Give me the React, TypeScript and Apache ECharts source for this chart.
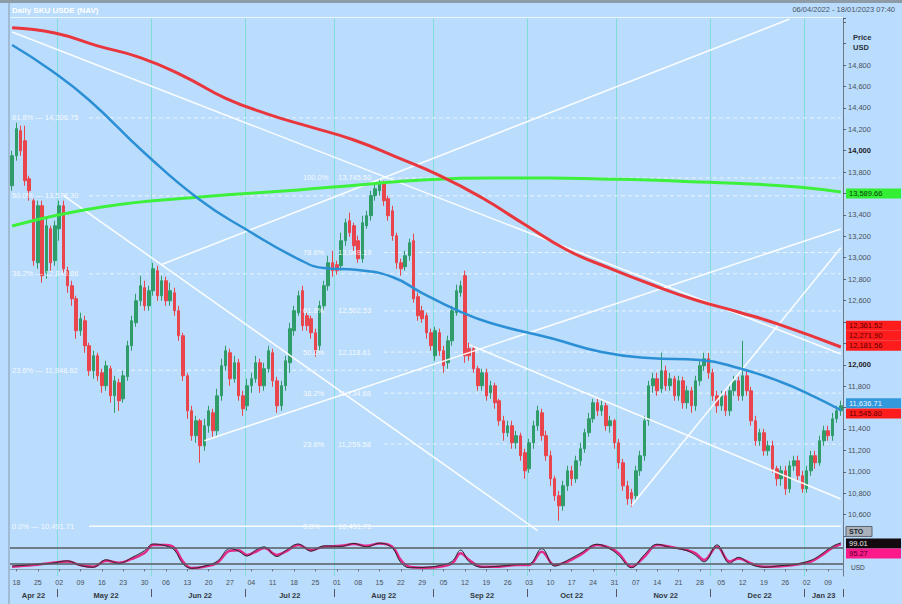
import React, { useEffect, useRef } from "react";
import * as echarts from "echarts";

const FONT = "Liberation Sans, Arial, sans-serif";
const BG = "#badcfd";

const MONTH_LABELS = ["Apr 22", "May 22", "Jun 22", "Jul 22", "Aug 22", "Sep 22", "Oct 22", "Nov 22", "Dec 22", "Jan 23"];
const MONTH_YM = [[2022, 4], [2022, 5], [2022, 6], [2022, 7], [2022, 8], [2022, 9], [2022, 10], [2022, 11], [2022, 12], [2023, 1]];
const TRADING_DAYS = [
  [15, 18, 19, 20, 21, 22, 25, 26, 27, 28, 29],
  [2, 3, 4, 5, 6, 9, 10, 11, 12, 13, 16, 17, 18, 19, 20, 23, 24, 25, 26, 27, 30, 31],
  [1, 2, 3, 6, 7, 8, 9, 10, 13, 14, 15, 16, 17, 20, 21, 22, 23, 24, 27, 28, 29, 30],
  [1, 4, 5, 6, 7, 8, 11, 12, 13, 14, 15, 18, 19, 20, 21, 22, 25, 26, 27, 28, 29],
  [1, 2, 3, 4, 5, 8, 9, 10, 11, 12, 15, 16, 17, 18, 19, 22, 23, 24, 25, 26, 29, 30, 31],
  [1, 2, 5, 6, 7, 8, 9, 12, 13, 14, 15, 16, 19, 20, 21, 22, 23, 26, 27, 28, 29, 30],
  [3, 4, 5, 6, 7, 10, 11, 12, 13, 14, 17, 18, 19, 20, 21, 24, 25, 26, 27, 28, 31],
  [1, 2, 3, 4, 7, 8, 9, 10, 11, 14, 15, 16, 17, 18, 21, 22, 23, 24, 25, 28, 29, 30],
  [1, 2, 5, 6, 7, 8, 9, 12, 13, 14, 15, 16, 19, 20, 21, 22, 23, 26, 27, 28, 29, 30],
  [2, 3, 4, 5, 6, 9, 10, 11, 12],
];

// [open, close, low, high]
const CANDLES = [
  [13673, 13953, 13626, 14000], [13953, 14206, 13907, 14262], [14187, 14000, 13953, 14234], [14093, 13720, 13673, 14234],
  [13738, 13626, 13533, 13766], [13533, 12972, 12925, 13552], [12953, 13486, 12897, 13533], [13486, 12832, 12766, 13533],
  [12860, 13299, 12804, 13365], [13271, 12953, 12879, 13299], [12972, 13299, 12925, 13346],
  // May
  [13271, 13486, 13159, 13533], [13486, 12897, 12860, 13533], [12879, 12738, 12673, 12916], [12738, 12617, 12551, 12785],
  [12617, 12318, 12243, 12645], [12318, 12430, 12271, 12486], [12411, 12178, 12112, 12458], [12178, 11944, 11897, 12206],
  [11944, 12084, 11869, 12131], [12084, 11897, 11850, 12112], [11925, 11804, 11738, 11963], [11804, 11991, 11757, 12037],
  [11963, 11710, 11645, 11991], [11710, 11850, 11551, 11897], [11832, 11664, 11570, 11869], [11682, 11897, 11645, 11944],
  [11888, 12178, 11850, 12224], [12178, 12411, 12131, 12458], [12392, 12598, 12355, 12664], [12598, 12738, 12551, 12832],
  [12720, 12551, 12505, 12785], [12551, 12692, 12505, 12738],
  // Jun
  [12692, 12897, 12645, 12953], [12879, 12645, 12598, 12925], [12645, 12785, 12598, 12832], [12785, 12598, 12551, 12823],
  [12598, 12692, 12551, 12766], [12673, 12505, 12458, 12720], [12505, 12271, 12224, 12551], [12271, 11897, 11850, 12299],
  [11897, 11570, 11495, 11925], [11570, 11337, 11290, 11617], [11337, 11477, 11271, 11523], [11477, 11243, 11084, 11495],
  [11243, 11430, 11196, 11495], [11430, 11570, 11365, 11617], [11551, 11383, 11327, 11589], [11383, 11710, 11337, 11776],
  [11710, 11991, 11664, 12056], [11991, 12131, 11944, 12178], [12112, 11869, 11804, 12150], [11869, 12019, 11832, 12084],
  [12019, 11710, 11664, 12056], [11710, 11589, 11523, 11757],
  // Jul
  [11617, 11804, 11570, 11869], [11804, 11869, 11738, 11925], [11869, 12019, 11832, 12084], [12019, 11804, 11738, 12056],
  [11804, 11963, 11757, 12019], [11963, 12131, 11925, 12178], [12112, 11850, 11794, 12150], [11850, 11617, 11551, 11888],
  [11617, 11804, 11570, 11850], [11804, 12037, 11757, 12084], [12019, 12337, 11925, 12392], [12318, 12505, 12271, 12551],
  [12486, 12645, 12458, 12692], [12692, 12365, 12318, 12738], [12458, 12365, 12318, 12486], [12430, 12299, 12243, 12458],
  [12299, 12131, 12075, 12337], [12178, 12551, 12131, 12598], [12551, 12738, 12505, 12785], [12738, 12953, 12692, 13019],
  [12953, 12879, 12823, 13065],
  // Aug
  [12935, 12879, 12841, 12972], [12925, 13159, 12879, 13234], [13159, 13327, 13112, 13365], [13346, 13234, 13196, 13421],
  [13299, 13112, 13065, 13327], [13159, 12991, 12953, 13206], [12991, 13327, 12953, 13393], [13299, 13393, 13271, 13439],
  [13393, 13580, 13346, 13626], [13580, 13645, 13533, 13692], [13626, 13701, 13580, 13738], [13692, 13533, 13486, 13720],
  [13552, 13393, 13346, 13580], [13439, 13206, 13159, 13486], [13206, 12953, 12897, 13234], [12953, 12897, 12832, 12991],
  [12916, 13019, 12879, 13065], [13019, 13140, 12972, 13178], [13159, 12617, 12580, 13224], [12636, 12458, 12411, 12673],
  [12505, 12430, 12392, 12551], [12458, 12299, 12243, 12486], [12299, 12178, 12131, 12337],
  // Sep
  [12084, 12318, 12037, 12355], [12299, 12131, 12084, 12337], [12131, 11991, 11925, 12178], [12019, 12224, 11963, 12271],
  [12224, 12505, 12178, 12551], [12486, 12692, 12458, 12748], [12673, 12738, 12636, 12785], [12832, 12084, 12019, 12879],
  [12150, 12084, 12037, 12206], [12150, 11963, 11925, 12178], [11963, 11804, 11757, 11991], [11804, 11925, 11757, 11963],
  [11925, 11710, 11664, 11963], [11738, 11804, 11682, 11850], [11804, 11645, 11589, 11832], [11664, 11477, 11430, 11682],
  [11477, 11365, 11290, 11523], [11365, 11430, 11327, 11477], [11430, 11271, 11215, 11477], [11271, 11337, 11215, 11383],
  [11337, 11150, 11103, 11365], [11178, 11009, 10935, 11215],
  // Oct
  [11028, 11271, 10990, 11308], [11271, 11430, 11215, 11477], [11430, 11570, 11383, 11617], [11551, 11337, 11290, 11589],
  [11337, 11150, 11103, 11383], [11150, 10935, 10869, 11196], [10935, 10776, 10729, 10963], [10776, 10682, 10542, 10822],
  [10682, 10869, 10636, 10916], [10869, 11009, 10822, 11056], [11009, 10935, 10869, 11056], [10935, 11103, 10897, 11150],
  [11103, 11215, 11056, 11271], [11215, 11365, 11178, 11402], [11365, 11495, 11327, 11551], [11495, 11645, 11458, 11682],
  [11645, 11570, 11523, 11682], [11570, 11617, 11523, 11664], [11617, 11430, 11383, 11645], [11430, 11477, 11365, 11523],
  [11477, 11271, 11215, 11495],
  // Nov
  [11271, 11084, 11028, 11308], [11084, 10869, 10822, 11121], [10869, 10748, 10692, 10916], [10804, 10748, 10673, 10841],
  [10776, 11009, 10729, 11056], [11009, 11150, 10963, 11196], [11150, 11477, 11103, 11523], [11477, 11804, 11430, 11850],
  [11804, 11869, 11738, 11925], [11869, 11757, 11710, 11925], [11776, 11944, 11738, 12112], [11944, 11804, 11757, 11991],
  [11804, 11869, 11757, 11925], [11869, 11710, 11664, 11897], [11710, 11850, 11664, 11897], [11850, 11645, 11589, 11888],
  [11645, 11757, 11589, 11804], [11757, 11617, 11551, 11794], [11617, 11850, 11570, 11897], [11850, 11991, 11804, 12037],
  [11991, 12056, 11944, 12112], [12056, 11925, 11869, 12112],
  // Dec
  [11925, 11710, 11664, 11963], [11710, 11617, 11551, 11757], [11617, 11710, 11570, 11757], [11710, 11570, 11523, 11757],
  [11570, 11757, 11523, 11804], [11757, 11850, 11710, 11897], [11850, 11710, 11664, 11888], [11710, 11897, 11664, 12224],
  [11897, 11757, 11710, 11944], [11757, 11477, 11430, 11794], [11477, 11290, 11243, 11523], [11290, 11365, 11243, 11402],
  [11365, 11196, 11150, 11402], [11196, 11243, 11150, 11290], [11243, 11028, 10991, 11290], [11028, 10935, 10869, 11056],
  [10935, 11009, 10869, 11056], [11009, 10841, 10785, 11056], [10841, 11056, 10804, 11103], [11056, 11103, 11009, 11150],
  [11103, 10963, 10916, 11150], [10963, 10841, 10804, 11009],
  // Jan
  [10841, 11009, 10804, 11056], [11009, 11150, 10963, 11196], [11150, 11084, 11028, 11196], [11084, 11290, 11056, 11337],
  [11290, 11383, 11243, 11430], [11383, 11337, 11290, 11430], [11337, 11495, 11290, 11551], [11495, 11570, 11458, 11617],
  [11570, 11617, 11523, 11664],
];

// moving averages as [category index, price]
const MA_RED = [[0, 15150], [10, 15100], [20, 14980], [30, 14870], [40, 14700], [50, 14490], [60, 14340], [70, 14220], [80, 14100], [90, 13940], [100, 13770], [110, 13560], [120, 13310], [130, 13070], [140, 12900], [150, 12745], [160, 12605], [170, 12493], [180, 12371], [194, 12166]];
const MA_BLUE = [[0, 14988], [9, 14754], [18, 14474], [31, 13979], [44, 13539], [55, 13259], [67, 12988], [73, 12904], [81, 12885], [89, 12820], [96, 12670], [104, 12512], [112, 12390], [126, 12250], [138, 12119], [149, 12063], [161, 12044], [170, 11970], [180, 11839], [187, 11717], [194, 11577]];
const MA_GREEN = [[0, 13296], [21, 13474], [44, 13567], [67, 13633], [81, 13680], [96, 13726], [112, 13745], [126, 13745], [138, 13736], [149, 13726], [161, 13708], [173, 13689], [184, 13661], [194, 13614]];

// trend lines: [[startIndex, price], [endIndex, price]]
const TRENDLINES = [
  [[0, 15109], [194, 12100]],
  [[12, 13583], [123, 10451]],
  [[35, 12937], [182, 15230]],
  [[45, 11291], [194, 13269]],
  [[145, 10684], [194, 13093]],
  [[107, 12187], [194, 10745]],
];

const LEFT_FIB_PCT = ["61.8%", "50.0%", "38.2%", "23.6%", "0.0%"];
const LEFT_FIB_VAL = [14306.75, 13578.3, 12849.86, 11948.62, 10491.71];
const MID_FIB_PCT = ["100.0%", "78.6%", "61.8%", "50.0%", "38.2%", "23.6%", "0.0%"];
const MID_FIB_VAL = [13745.5, 13049.19, 12502.53, 12118.61, 11734.68, 11259.58, 10491.71];

// oscillator [index, value]
const OSC_SLOW = [[0, 10], [5, 16], [9, 24], [13, 29], [16, 16], [19, 10], [22, 32], [25, 25], [28, 39], [31, 61], [33, 91], [36, 91], [38, 80], [40, 29], [42, 5], [45, 10], [48, 24], [51, 70], [53, 72], [55, 54], [57, 66], [59, 80], [62, 54], [64, 66], [67, 91], [70, 72], [73, 85], [77, 88], [80, 95], [83, 88], [86, 97], [89, 85], [91, 35], [93, 10], [97, 6], [100, 10], [103, 22], [105, 60], [107, 35], [110, 10], [114, 10], [118, 16], [121, 16], [124, 66], [127, 16], [130, 29], [133, 54], [137, 91], [140, 80], [142, 60], [145, 10], [148, 47], [151, 91], [154, 85], [158, 72], [160, 60], [162, 35], [165, 85], [168, 29], [170, 41], [173, 22], [176, 10], [180, 12], [183, 16], [187, 29], [189, 47], [192, 80], [194, 95]];
const OSC_FAST = [[0, 12], [5, 18], [9, 22], [13, 32], [16, 14], [19, 8], [22, 36], [25, 22], [28, 44], [31, 70], [33, 95], [36, 88], [38, 72], [40, 20], [42, 4], [45, 12], [48, 30], [51, 78], [53, 68], [55, 50], [57, 72], [59, 84], [62, 48], [64, 70], [67, 95], [70, 68], [73, 88], [77, 86], [80, 97], [83, 84], [86, 98], [89, 80], [91, 25], [93, 6], [97, 8], [100, 14], [103, 30], [105, 72], [107, 28], [110, 8], [114, 12], [118, 18], [121, 20], [124, 78], [127, 12], [130, 34], [133, 60], [137, 94], [140, 76], [142, 52], [145, 6], [148, 55], [151, 94], [154, 82], [158, 70], [160, 52], [162, 28], [165, 92], [168, 22], [170, 45], [173, 18], [176, 8], [180, 14], [183, 18], [187, 34], [189, 52], [192, 86], [194, 99]];

const PRICE_BOXES = [
  { value: 13600, text: "13,589.66", fill: "#33ee33", color: "#0b3a0b" },
  { value: 12364, text: "12,361.52", fill: "#ff1c1c", color: "#5a0000" },
  { value: 12271, text: "12,271.90", fill: "#ff1c1c", color: "#5a0000" },
  { value: 12178, text: "12,181.56", fill: "#ff1c1c", color: "#5a0000" },
  { value: 11640, text: "11,636.71", fill: "#3399dd", color: "#e8f4ff" },
  { value: 11545, text: "11,545.80", fill: "#ff1c1c", color: "#5a0000" },
];
// axis levels hidden behind the value boxes
const COVERED_LEVELS = [13600, 12400, 12200, 11600];

const TITLE = "Daily SKU USDE (NAV)";
const RANGE_TEXT = "06/04/2022 - 18/01/2023 07:40";

// derived categories
const dates: string[] = [];
const dayNum: number[] = [];
const monthIdx: number[] = [];
const isMonday: boolean[] = [];
const isMonthStart: boolean[] = [];
const isMonthMid: boolean[] = [];
TRADING_DAYS.forEach((days, m) => {
  const [y, mo] = MONTH_YM[m];
  days.forEach((d, k) => {
    dates.push(`${y}-${String(mo).padStart(2, "0")}-${String(d).padStart(2, "0")}`);
    dayNum.push(d);
    monthIdx.push(m);
    isMonday.push(new Date(y, mo - 1, d).getDay() === 1);
    isMonthStart.push(k === 0 && m > 0);
    isMonthMid.push(k === Math.floor(days.length / 2));
  });
});

const fmt0 = (v: number) => v.toLocaleString("en-US");
const fmt2 = (v: number) => v.toLocaleString("en-US", { minimumFractionDigits: 2, maximumFractionDigits: 2 });

const TEAL = "rgba(110,222,200,0.75)";
const FIBLINE = "rgba(255,255,255,0.7)";

function buildOption(): any {
  const series: any[] = [];
  LEFT_FIB_VAL.forEach((v, i) => {
    const last = i === LEFT_FIB_VAL.length - 1;
    series.push({
      type: "line", xAxisIndex: 0, yAxisIndex: 0, z: 1, silent: true, showSymbol: false,
      data: [[18, v], [194, v]],
      lineStyle: { color: last ? "rgba(255,255,255,0.9)" : FIBLINE, width: last ? 1.5 : 1, type: last ? "solid" : [4, 3] },
    });
  });
  MID_FIB_VAL.forEach((v, i) => {
    if (i === MID_FIB_VAL.length - 1) return;
    series.push({
      type: "line", xAxisIndex: 0, yAxisIndex: 0, z: 1, silent: true, showSymbol: false,
      data: [[87, v], [194, v]],
      lineStyle: { color: FIBLINE, width: 1, type: [4, 3] },
    });
  });
  series.push({
    type: "candlestick", xAxisIndex: 0, yAxisIndex: 0, z: 2, barWidth: 3,
    data: CANDLES,
    itemStyle: { color: "#2f9c6a", color0: "#e8454c", borderColor: "#2f9c6a", borderColor0: "#e8454c", borderWidth: 1 },
  });
  TRENDLINES.forEach((seg) => {
    series.push({
      type: "line", xAxisIndex: 0, yAxisIndex: 0, z: 3, silent: true, showSymbol: false,
      data: seg, lineStyle: { color: "rgba(255,255,255,0.92)", width: 1.6 },
    });
  });
  series.push({ type: "line", xAxisIndex: 0, yAxisIndex: 0, z: 4, showSymbol: false, smooth: 0.5, data: MA_GREEN, lineStyle: { color: "#3cf03c", width: 3 } });
  series.push({ type: "line", xAxisIndex: 0, yAxisIndex: 0, z: 4, showSymbol: false, smooth: 0.5, data: MA_BLUE, lineStyle: { color: "#2a8fd4", width: 2.5 } });
  series.push({ type: "line", xAxisIndex: 0, yAxisIndex: 0, z: 4, showSymbol: false, smooth: 0.5, data: MA_RED, lineStyle: { color: "#e8363c", width: 3 } });
  series.push({
    type: "line", xAxisIndex: 1, yAxisIndex: 1, z: 3, showSymbol: false, smooth: 0.4, data: OSC_SLOW,
    lineStyle: { color: "#e3288a", width: 2.5 },
    markLine: {
      silent: true, symbol: ["none", "none"], label: { show: false },
      lineStyle: { color: "#555c63", width: 1.5, type: "solid" },
      data: [{ yAxis: 80 }, { yAxis: 20 }],
    },
  });
  series.push({ type: "line", xAxisIndex: 1, yAxisIndex: 1, z: 4, showSymbol: false, smooth: 0.4, data: OSC_FAST, lineStyle: { color: "#2a2a2a", width: 1 } });

  const splitMonth = { show: true, interval: (i: number) => isMonthStart[i], lineStyle: { color: TEAL, width: 1 } };

  return {
    animation: false,
    backgroundColor: BG,
    textStyle: { fontFamily: FONT },
    grid: [
      { left: 10, right: 59, top: 18, height: 518 },
      { left: 10, right: 59, top: 536, height: 40 },
    ],
    xAxis: [
      { type: "category", gridIndex: 0, data: dates, boundaryGap: true, axisLine: { show: false }, axisTick: { show: false }, axisLabel: { show: false }, splitLine: splitMonth },
      {
        type: "category", gridIndex: 1, data: dates, boundaryGap: true,
        axisLine: { show: true, lineStyle: { color: "#8fa2b3" } },
        axisTick: { show: true, alignWithLabel: true, interval: (i: number) => isMonday[i], length: 2, lineStyle: { color: "#667" } },
        axisLabel: { interval: (i: number) => isMonday[i], formatter: (_v: string, i: number) => String(dayNum[i]).padStart(2, "0"), fontSize: 7, color: "#4a5058", margin: 3, fontFamily: FONT },
        splitLine: splitMonth,
      },
      {
        type: "category", gridIndex: 1, data: dates, boundaryGap: true, position: "bottom", offset: 13,
        axisLine: { show: false },
        axisTick: { show: true, interval: (i: number) => isMonthStart[i], length: 8, lineStyle: { color: "#556" } },
        axisLabel: { interval: (i: number) => isMonthMid[i], formatter: (_v: string, i: number) => MONTH_LABELS[monthIdx[i]], fontSize: 7.5, fontWeight: "bold", color: "#343a42", margin: 2, fontFamily: FONT },
      },
    ],
    yAxis: [
      {
        type: "value", gridIndex: 0, position: "right", min: 10400, max: 15240, interval: 200,
        axisLine: { show: true, lineStyle: { color: "#6c7884" } },
        axisTick: { show: true, length: 3, lineStyle: { color: "#5a6470" } },
        splitLine: { show: false },
        axisLabel: {
          fontSize: 7.5, color: "#4a5058", margin: 5, fontFamily: FONT,
          formatter: (v: number) =>
            v < 10600 || v > 14800 || COVERED_LEVELS.includes(v) ? "" : v % 2000 === 0 ? `{b|${fmt0(v)}}` : fmt0(v),
          rich: { b: { fontWeight: "bold", fontSize: 7.5, color: "#1e2228", fontFamily: FONT } },
        },
      },
      {
        type: "value", gridIndex: 1, position: "right", min: -25, max: 125,
        axisLine: { show: true, lineStyle: { color: "#6c7884" } }, axisTick: { show: false }, axisLabel: { show: false }, splitLine: { show: false },
      },
    ],
    series,
  };
}

function buildGraphics(chart: any): any[] {
  const g: any[] = [];
  const yp = (v: number) => chart.convertToPixel({ yAxisIndex: 0 }, v) as number;
  const yo = (v: number) => chart.convertToPixel({ yAxisIndex: 1 }, v) as number;
  const txt = (x: number, y: number, text: string, fill: string, size = 7.5, weight = "normal", align = "left") => ({
    type: "text", z: 100, silent: true,
    style: { x, y, text, fill, font: `${weight} ${size}px ${FONT}`, textAlign: align, textVerticalAlign: "middle", verticalAlign: "middle" },
  });
  g.push({ type: "rect", z: 90, silent: true, shape: { x: 0, y: 0, width: 902, height: 3 }, style: { fill: "#8e9ca8" } });
  g.push({ type: "line", z: 90, silent: true, shape: { x1: 10, y1: 17.5, x2: 843, y2: 17.5 }, style: { stroke: "rgba(255,255,255,0.7)", lineWidth: 1 } });
  g.push({ type: "line", z: 90, silent: true, shape: { x1: 9, y1: 3, x2: 9, y2: 604 }, style: { stroke: "#98b0c6", lineWidth: 1.5 } });
  g.push(txt(12, 10.5, TITLE, "#ffffff", 8, "bold"));
  g.push(txt(895, 9.5, RANGE_TEXT, "#4a5563", 7.5, "normal", "right"));
  g.push(txt(853, 37, "Price", "#2a3038", 7.5, "bold"));
  g.push(txt(853, 47, "USD", "#2a3038", 7.5, "bold"));
  LEFT_FIB_VAL.forEach((v, i) => g.push(txt(12, yp(v), `${LEFT_FIB_PCT[i]} — ${fmt2(v)}`, "rgba(255,255,255,0.9)", 7.5)));
  MID_FIB_VAL.forEach((v, i) => {
    g.push(txt(303, yp(v), MID_FIB_PCT[i], "rgba(255,255,255,0.9)", 7.5));
    g.push(txt(338, yp(v), fmt2(v), "rgba(255,255,255,0.9)", 7.5));
  });
  PRICE_BOXES.forEach((b) => {
    const y = yp(b.value);
    g.push({ type: "rect", z: 95, silent: true, shape: { x: 846, y: y - 5, width: 55, height: 10 }, style: { fill: b.fill } });
    g.push(txt(849, y, b.text, b.color, 7.5));
  });
  const yb = yo(97);
  g.push({ type: "rect", z: 95, silent: true, shape: { x: 846, y: yb - 17, width: 26, height: 10 }, style: { fill: "#a9b2ba", stroke: "#5d656d", lineWidth: 1 } });
  g.push(txt(849, yb - 12, "STO", "#20262c", 7, "bold"));
  g.push({ type: "rect", z: 95, silent: true, shape: { x: 846, y: yb - 5, width: 55, height: 10 }, style: { fill: "#120a0e" } });
  g.push(txt(849, yb, "99.01", "#e8e8e8", 7.5));
  g.push({ type: "rect", z: 95, silent: true, shape: { x: 846, y: yb + 5, width: 55, height: 10 }, style: { fill: "#ff1a8c" } });
  g.push(txt(849, yb + 10, "95.27", "#4a0024", 7.5));
  g.push(txt(851, yo(6), "USD", "#3a424a", 6.5));
  return g;
}

export default function App() {
  const ref = useRef<HTMLDivElement>(null);
  useEffect(() => {
    document.body.style.margin = "0";
    const chart = echarts.init(ref.current!, null, { renderer: "svg" });
    chart.setOption(buildOption());
    chart.setOption({ graphic: buildGraphics(chart) });
    return () => chart.dispose();
  }, []);
  return <div ref={ref} style={{ position: "absolute", left: 0, top: 0, width: 902, height: 604 }} />;
}
